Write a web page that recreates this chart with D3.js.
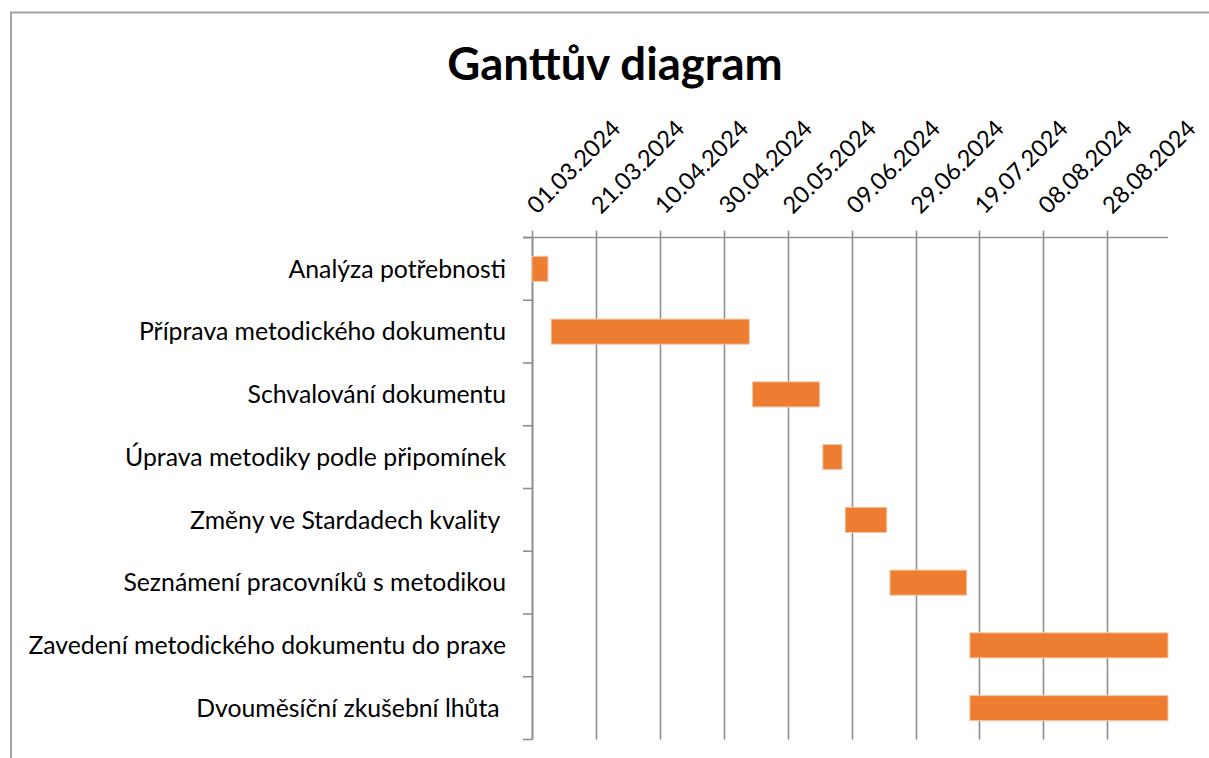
<!DOCTYPE html>
<html>
<head>
<meta charset="utf-8">
<script src="https://cdn.jsdelivr.net/npm/d3@7"></script>
<style>
  body { margin: 0; background: #fff; }
  svg text { font-family: Lato, "Open Sans", sans-serif; white-space: pre; fill: #000; }
</style>
</head>
<body>
<svg width="1209" height="758"></svg>
<script>
// tasks, start dates and durations (days)
var tasks = [
  "Analýza potřebnosti",
  "Příprava metodického dokumentu",
  "Schvalování dokumentu",
  "Úprava metodiky podle připomínek",
  "Změny ve Stardadech kvality ",
  "Seznámení pracovníků s metodikou",
  "Zavedení metodického dokumentu do praxe",
  "Dvouměsíční zkušební lhůta "
];
var starts = ["01.03.2024", "07.03.2024", "09.05.2024", "31.05.2024",
              "07.06.2024", "21.06.2024", "16.07.2024", "16.07.2024"];
var durations = [5, 62, 21, 6, 13, 24, 62, 62];

var tickLabels = ["01.03.2024", "21.03.2024", "10.04.2024", "30.04.2024", "20.05.2024",
                  "09.06.2024", "29.06.2024", "19.07.2024", "08.08.2024", "28.08.2024"];
var axisMin = "01.03.2024", axisMax = "16.09.2024";

var svg = d3.select("svg"),
    width = +svg.attr("width"),
    height = +svg.attr("height");

var parse = d3.utcParse("%d.%m.%Y");

var plotLeft = 532, plotRight = 1168, plotTop = 237.5, plotBottom = 739.5;
var gridColor = "#8f8f8f";

// chart frame
svg.append("rect")
  .attr("x", 11).attr("y", 12.5)
  .attr("width", 1400).attr("height", 900)
  .attr("fill", "none").attr("stroke", "#a3a3a3").attr("stroke-width", 2);

svg.append("text")
  .attr("x", 615).attr("y", 80)
  .attr("text-anchor", "middle")
  .style("font-size", "45.5px").style("font-weight", "bold")
  .text("Ganttův diagram");

var x = d3.scaleUtc()
  .domain([parse(axisMin), parse(axisMax)])
  .range([plotLeft, plotRight]);

var y = d3.scaleBand()
  .domain(tasks)
  .range([plotTop, plotBottom])
  .paddingInner(0.6)
  .paddingOuter(0.3);

var step = y.step();

// vertical gridlines
svg.append("g").selectAll("line")
  .data(tickLabels.map(parse))
  .enter().append("line")
  .attr("x1", function(d) { return Math.round(x(d)) + 0.5; })
  .attr("x2", function(d) { return Math.round(x(d)) + 0.5; })
  .attr("y1", plotTop - 7).attr("y2", plotBottom)
  .attr("stroke", gridColor).attr("stroke-width", 1.6);

// top axis line
svg.append("line")
  .attr("x1", plotLeft - 9).attr("x2", plotRight)
  .attr("y1", plotTop).attr("y2", plotTop)
  .attr("stroke", gridColor).attr("stroke-width", 1.6);

// left axis line + category ticks at band boundaries
svg.append("line")
  .attr("x1", plotLeft + 0.5).attr("x2", plotLeft + 0.5)
  .attr("y1", plotTop).attr("y2", plotBottom)
  .attr("stroke", gridColor).attr("stroke-width", 1.6);

svg.append("g").selectAll("line")
  .data(d3.range(tasks.length + 1))
  .enter().append("line")
  .attr("x1", plotLeft - 9).attr("x2", plotLeft)
  .attr("y1", function(i) { return plotTop + i * step; })
  .attr("y2", function(i) { return plotTop + i * step; })
  .attr("stroke", gridColor).attr("stroke-width", 1.6);

// rotated date labels
svg.append("g").selectAll("text")
  .data(tickLabels)
  .enter().append("text")
  .attr("transform", function(d) { return "translate(" + (x(parse(d)) + 5) + "," + 215 + ") rotate(-45)"; })
  .style("font-size", "23.5px")
  .text(function(d) { return d; });

// category labels
svg.append("g").selectAll("text")
  .data(tasks)
  .enter().append("text")
  .attr("x", 506)
  .attr("y", function(d) { return y(d) + y.bandwidth() / 2; })
  .attr("dy", "0.35em")
  .attr("text-anchor", "end")
  .style("font-size", "24.8px")
  .text(function(d) { return d; });

// bars
svg.append("g").selectAll("rect")
  .data(tasks)
  .enter().append("rect")
  .attr("x", function(d, i) { return x(parse(starts[i])); })
  .attr("y", function(d) { return y(d); })
  .attr("width", function(d, i) {
    var s = parse(starts[i]);
    return x(d3.utcDay.offset(s, durations[i])) - x(s);
  })
  .attr("height", y.bandwidth())
  .attr("fill", "#ED7D31")
  .attr("stroke", "#f7c6a5").attr("stroke-width", 1);
</script>
</body>
</html>
